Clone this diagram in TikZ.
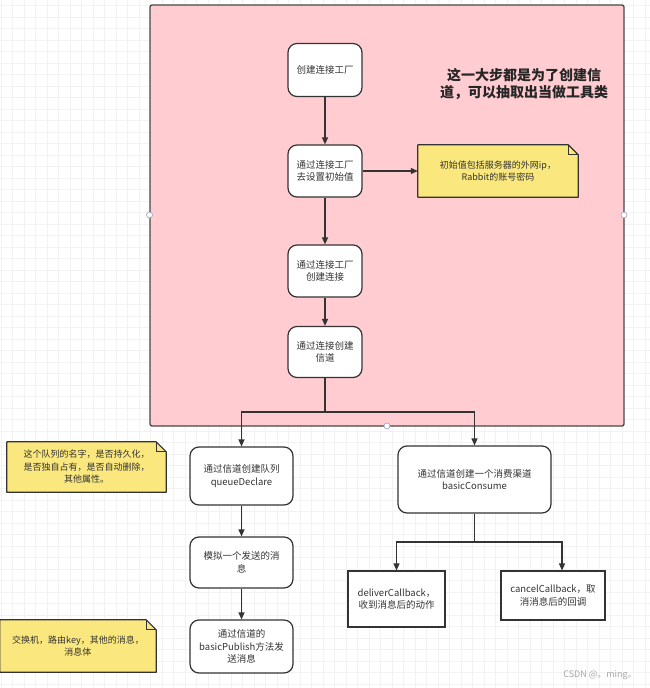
\documentclass[tikz,border=0pt]{standalone}
\usepackage{fontspec}
\setmainfont{Noto Sans CJK SC}
\usetikzlibrary{arrows.meta}
\definecolor{framepink}{RGB}{255,204,209}
\definecolor{noteyellow}{RGB}{250,231,125}
\definecolor{inkgray}{RGB}{51,51,51}
\pgfdeclarelayer{grid}
\pgfdeclarelayer{frame}
\pgfsetlayers{grid,frame,main}
\tikzset{
  stepbox/.style={draw=inkgray, line width=1.2pt, rounded corners=9pt, fill=white,
    align=center, text=inkgray, inner sep=2pt, font=\fontsize{9.5}{12.5}\selectfont},
  plainbox/.style={stepbox, rounded corners=0pt, line width=1.1pt},
  notetext/.style={align=center, text=inkgray, inner sep=2pt, font=\fontsize{9}{12.5}\selectfont},
  notebody/.style={draw=inkgray, line width=1.2pt, fill=noteyellow, line join=round},
  framebox/.style={draw=inkgray!90, line width=1.3pt, fill=framepink, rounded corners=2pt},
  arr/.style={draw=inkgray, line width=1.2pt, -{Triangle[length=7pt,width=6pt]}},
  link/.style={draw=inkgray, line width=1.2pt},
  gridline/.style={draw=black!5, line width=0.5pt},
  handle/.style={draw=blue!30!gray!60, fill=white, line width=0.6pt},
}
\begin{document}
\begin{tikzpicture}[x=1pt, y=-1pt]
  \useasboundingbox (0,0) rectangle (650,688);
  \begin{pgfonlayer}{grid}
    \fill[white] (0,0) rectangle (650,688);
    \foreach \gx in {1,12.5,...,650} \draw[gridline] (\gx,0) -- (\gx,688);
    \foreach \gy in {5.5,17,...,688} \draw[gridline] (0,\gy) -- (650,\gy);
  \end{pgfonlayer}
  \begin{pgfonlayer}{frame}
    \draw[framebox] (150,5) rectangle (624,426);
  \end{pgfonlayer}

  % channel setup steps
  \node[stepbox, minimum width=74pt, minimum height=53pt] (factory) at (325,70) {创建连接工厂};
  \node[stepbox, minimum width=74pt, minimum height=52pt] (setinit) at (325,171) {通过连接工厂\\去设置初始值};
  \node[stepbox, minimum width=74pt, minimum height=52pt] (conn) at (325,271) {通过连接工厂\\创建连接};
  \node[stepbox, minimum width=74pt, minimum height=51pt] (chan) at (325,352) {通过连接创建\\信道};
  \node[notetext, minimum width=160pt, minimum height=52pt] (initnote) at (498,171) {初始值包括服务器的外网ip，\\Rabbit的账号密码};
  \node[align=center, text=black!85, font=\bfseries\fontsize{14}{17.5}\selectfont] (headline) at (524,84) {这一大步都是为了创建信\\道，可以抽取出当做工具类};

  % producer side
  \node[stepbox, minimum width=103pt, minimum height=58pt] (declare) at (241.5,476) {通过信道创建队列\\queueDeclare};
  \node[stepbox, minimum width=103pt, minimum height=51pt] (mockmsg) at (241.5,562.5) {模拟一个发送的消\\息};
  \node[stepbox, minimum width=103pt, minimum height=53pt] (publish) at (241.5,646.5) {通过信道的\\basicPublish方法发\\送消息};
  \node[notetext, minimum width=159pt, minimum height=50pt] (queuenote) at (86.5,467) {这个队列的名字，是否持久化，\\是否独自占有，是否自动删除，\\其他属性。};
  \node[notetext, minimum width=156pt, minimum height=52pt] (pubnote) at (78,646) {交换机，路由key，其他的消息，\\消息体};

  % consumer side
  \node[stepbox, minimum width=153pt, minimum height=67pt] (consume) at (474.5,479.5) {通过信道创建一个消费渠道\\basicConsume};
  \node[plainbox, minimum width=97pt, minimum height=56pt] (deliver) at (396.5,599) {deliverCallback，\\收到消息后的动作};
  \node[plainbox, minimum width=104pt, minimum height=49pt] (cancel) at (553,595.5) {cancelCallback，取\\消消息后的回调};

  \node[text=black!35, font=\fontsize{9}{10}\selectfont] (mark) at (600,675) {CSDN @。ming。};

  % note shapes with folded corner
  \begin{pgfonlayer}{frame}
    \foreach \nn in {initnote,queuenote,pubnote} {
      \filldraw[notebody] (\nn.south west) -- (\nn.south east) -- ([yshift=-10pt]\nn.north east)
        -- ([xshift=-10pt]\nn.north east) -- (\nn.north west) -- cycle;
      \draw[notebody, fill=none] ([xshift=-10pt]\nn.north east) -- ([xshift=-10pt,yshift=-10pt]\nn.north east)
        -- ([yshift=-10pt]\nn.north east);
    }
  \end{pgfonlayer}

  \coordinate (split) at (325,412);
  \coordinate (split2) at (474.5,542);
  \draw[arr] (factory) -- (setinit);
  \draw[arr] (setinit) -- (conn);
  \draw[arr] (conn) -- (chan);
  \draw[arr] (setinit) -- (initnote);
  \draw[link] (chan) -- (split);
  \draw[arr] (split) -| (declare.north);
  \draw[arr] (split) -| (consume.north);
  \draw[arr] (declare) -- (mockmsg);
  \draw[arr] (mockmsg) -- (publish);
  \draw[link] (consume) -- (split2);
  \draw[arr] (split2) -| (deliver.north);
  \draw[arr] (split2) -| ([xshift=9pt]cancel.north);

  \foreach \hx/\hy in {149.5/215, 624/215, 387/426}
    \draw[handle] (\hx,\hy) circle (3pt);
\end{tikzpicture}
\end{document}
